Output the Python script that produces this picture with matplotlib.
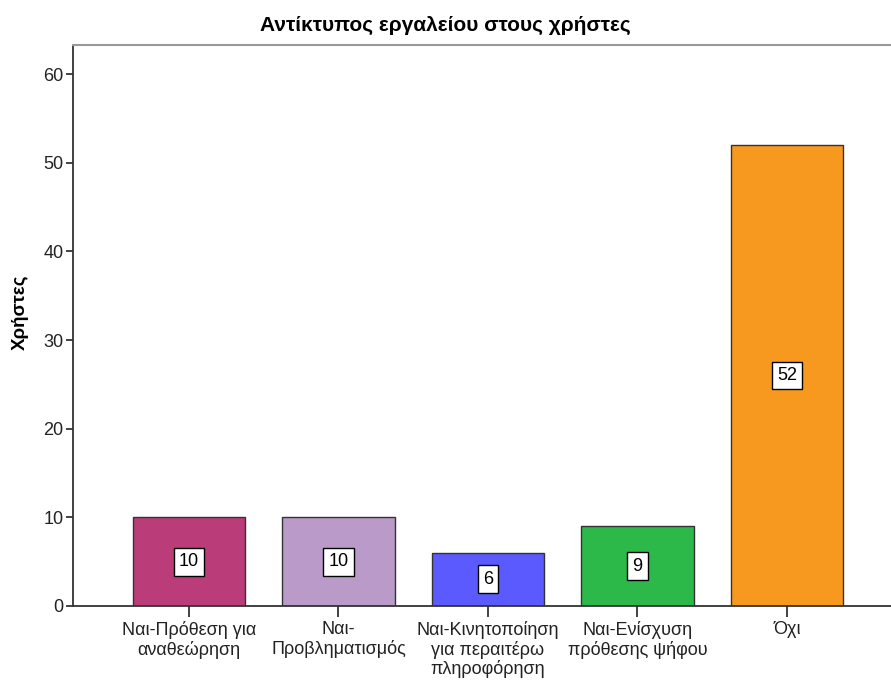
import matplotlib.pyplot as plt
import numpy as np

plt.rcParams['font.family'] = ['Liberation Sans', 'DejaVu Sans']

# Δεδομένα
katigories = ['Ναι-Πρόθεση για\nαναθεώρηση', 'Ναι-\nΠροβληματισμός',
              'Ναι-Κινητοποίηση\nγια περαιτέρω\nπληροφόρηση',
              'Ναι-Ενίσχυση\nπρόθεσης ψήφου', 'Όχι']
xristes = [10, 10, 6, 9, 52]
xromata = ['#BA3C78', '#B99AC8', '#5A5AFF', '#2DB84A', '#F7981F']

fig = plt.figure(figsize=(8.91, 6.8), dpi=100)
ax = fig.add_axes([73 / 891, 1 - 606 / 680, 1 - 73 / 891, (606 - 45) / 680])

x = np.arange(len(xristes))
bars = ax.bar(x, xristes, width=0.75, color=xromata, edgecolor='#333333', linewidth=1.0, zorder=2)

# Ετικέτες τιμών μέσα στις μπάρες
for b, v in zip(bars, xristes):
    ax.text(b.get_x() + b.get_width() / 2, v / 2, str(v), ha='center', va='center',
            fontsize=13, color='black', zorder=3,
            bbox=dict(boxstyle='square,pad=0.3', facecolor='white', edgecolor='black', linewidth=1.0))

ax.set_xlim(-0.776, 4.696)
ax.set_ylim(0, 63.3)
ax.set_yticks([0, 10, 20, 30, 40, 50, 60])
ax.set_xticks(x)
ax.set_xticklabels(katigories, fontsize=13, linespacing=1.1, color='#222222')
ax.tick_params(axis='y', labelsize=13, length=5, width=1.3, color='#333333', pad=2, labelcolor='#222222')
ax.tick_params(axis='x', length=8, width=1.3, color='#333333', pad=3)

ax.spines['right'].set_visible(False)
ax.spines['top'].set_color('#999999')
ax.spines['top'].set_linewidth(1.5)
ax.spines['left'].set_color('#333333')
ax.spines['left'].set_linewidth(1.3)
ax.spines['bottom'].set_color('#333333')
ax.spines['bottom'].set_linewidth(1.3)

ax.set_ylabel('Χρήστες', fontsize=13.5, fontweight='bold')
ax.yaxis.set_label_coords(-0.054, 0.524)
fig.suptitle('Αντίκτυπος εργαλείου στους χρήστες', fontsize=15, fontweight='bold', y=1 - 25 / 680, va='center')

fig.savefig('out.png', dpi=100)
